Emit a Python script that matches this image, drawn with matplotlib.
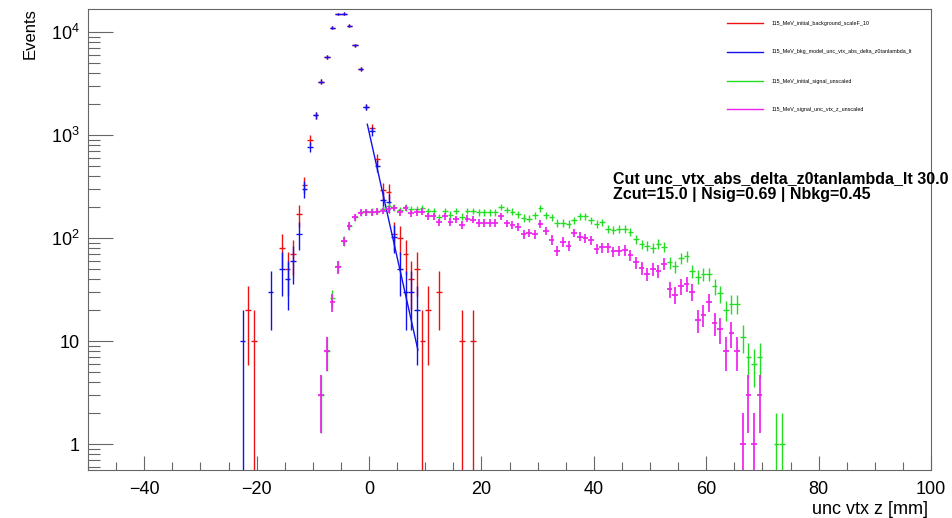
import numpy as np
import matplotlib.pyplot as plt
from matplotlib.lines import Line2D
from matplotlib.ticker import NullFormatter, LogLocator, MultipleLocator

plt.rcParams['font.family'] = ['Liberation Sans', 'DejaVu Sans']
plt.rcParams['mathtext.fontset'] = 'custom'
plt.rcParams['mathtext.rm'] = 'Liberation Sans'
plt.rcParams['mathtext.it'] = 'Liberation Sans:italic'
plt.rcParams['mathtext.bf'] = 'Liberation Sans:bold'

# background, scaled by 10 (bin centres in mm)
bkg_z = [-21.5, -20.5, -15.5, -14.5, -13.5, -12.5, -11.5, -10.5, -9.5, -8.5,
         -7.5, -6.5, -5.5, -4.5, -3.5, -2.5, -1.5, -0.5, 0.5, 1.5,
         2.5, 3.5, 4.5, 5.5, 6.5, 7.5, 8.5, 9.5, 10.5, 12.5, 16.5, 18.5]
bkg_n = [20, 10, 80, 50, 70, 170, 330, 900, 1560, 3290,
         5750, 11000, 14900, 15100, 11500, 7400, 4360, 1880, 1170, 580,
         290, 280, 110, 100, 70, 40, 50, 10, 20, 30, 10, 10]

# background model after the cut
model_z = [-22.5, -17.5, -15.5, -14.5, -13.5, -12.5, -11.5, -10.5, -9.5, -8.5,
           -7.5, -6.5, -5.5, -4.5, -3.5, -2.5, -1.5, -0.5, 0.5, 1.5,
           2.5, 3.5, 4.5, 5.5, 6.5, 7.5, 8.5]
model_n = [10, 30, 50, 40, 60, 110, 300, 770, 1560, 3290,
           5750, 11000, 14900, 15100, 11500, 7400, 4360, 1880, 1090, 505,
           233, 222, 103, 50, 30, 30, 20]

# exponential tail fit of the model
fit_z = [-0.3, 8.7]
fit_n = [1270, 8.2]

# signal, bins -8.5 ... 69.5
sig_z = np.arange(-8.5, 70.0, 1.0)
sig_n = [3, 8, 26, 53, 94, 132, 160, 177, 179, 180,
         183, 190, 204, 199, 187, 199, 191, 191, 195, 184,
         184, 159, 184, 169, 184, 161, 184, 184, 178, 178,
         178, 178, 201, 187, 180, 171, 157, 154, 167, 194,
         167, 159, 140, 141, 138, 148, 164, 164, 148, 137,
         142, 122, 120, 122, 122, 115, 98, 87, 84, 80,
         88, 82, 58, 53, 64, 67, 48, 42, 45, 45,
         34, 29, 20, 23, 23, 11, 7, 6, 7]
sig_tail_z = [72.5, 73.5]
sig_tail_n = [1, 1]

cut_n = [3, 8, 24, 52, 93, 131, 159, 176, 178, 178,
         180, 184, 190, 195, 178, 195, 174, 178, 180, 164,
         163, 142, 163, 143, 152, 134, 154, 151, 141, 141,
         141, 141, 164, 139, 134, 129, 109, 113, 109, 138,
         118, 96, 75, 92, 84, 112, 103, 99, 95, 78,
         81, 81, 74, 75, 76, 68, 58, 51, 45, 50,
         48, 56, 32, 28, 34, 36, 30, 16, 18, 24,
         15, 13, 8, 12, 8, 1, 3, 1, 3]

labels = ['115_MeV_initial_background_scaleF_10',
          '115_MeV_bkg_model_unc_vtx_abs_delta_z0tanlambda_lt',
          '115_MeV_initial_signal_unscaled',
          '115_MeV_signal_unc_vtx_z_unscaled']
colors = ['#ee1111', '#1111ee', '#22dd22', '#ee22ee']

W, H = 953, 518
fig = plt.figure(figsize=(W / 100, H / 100), dpi=100)
ax = fig.add_axes([88 / W, 1 - 470 / H, (931 - 88) / W, (470 - 9) / H])
ax.set_yscale('log')


def draw(z, n, scale, color, lw=1.0):
    z = np.asarray(z, float)
    n = np.asarray(n, float)
    err = np.sqrt(n * scale)
    lo = np.minimum(err, n - 1e-3)
    ax.errorbar(z, n, xerr=0.5, yerr=[lo, err], fmt='none', ecolor=color,
                elinewidth=lw, capsize=0)


draw(bkg_z, bkg_n, 10, colors[0])
draw(model_z, model_n, 10, colors[1])
ax.plot(fit_z, fit_n, color=colors[1], lw=1.0)
draw(np.concatenate([sig_z, sig_tail_z]), list(sig_n) + sig_tail_n, 1, colors[2])
draw(sig_z, cut_n, 1, colors[3], lw=1.25)

ax.set_xlim(-50, 100)
ax.set_ylim(0.56, 16700)

frame = '#666666'
for s in ax.spines.values():
    s.set_color(frame)
    s.set_linewidth(0.8)

ax.set_yticks([1, 10, 100, 1000, 10000])
ax.set_yticklabels(['1', '10', '$10^{2}$', '$10^{3}$', '$10^{4}$'])
ax.yaxis.set_minor_locator(LogLocator(base=10, subs=np.arange(2, 10)))
ax.yaxis.set_minor_formatter(NullFormatter())
ax.xaxis.set_major_locator(MultipleLocator(20))
ax.xaxis.set_minor_locator(MultipleLocator(5))
ax.tick_params(axis='both', which='both', direction='in', color=frame,
               labelsize=13, top=False, right=False)
ax.tick_params(axis='y', which='major', length=18, width=0.8, pad=6)
ax.tick_params(axis='y', which='minor', length=8.5, width=0.8)
ax.tick_params(axis='x', which='major', length=10, width=0.8, pad=8)
ax.tick_params(axis='x', which='minor', length=5.5, width=0.8)

fig.text(30 / W, 1 - 8 / H, 'Events', rotation=90, ha='center', va='top',
         fontsize=12)
fig.text(928 / W, 1 - 514 / H, 'unc vtx z [mm]', ha='right', va='baseline',
         fontsize=13)

# legend drawn by hand, ROOT style
leg_y = [23, 52, 81, 109]
for lab, col, y in zip(labels, colors, leg_y):
    fig.add_artist(Line2D([727 / W, 763 / W], [1 - y / H, 1 - y / H],
                          color=col, lw=1.0))
    fig.text(772 / W, 1 - y / H, lab, fontsize=3.9, va='center', ha='left')

fig.text(613 / W, 1 - 183 / H, 'Cut unc_vtx_abs_delta_z0tanlambda_lt 30.0',
         fontsize=11.5, fontweight='bold', va='baseline')
fig.text(613 / W, 1 - 198.5 / H, 'Zcut=15.0 | Nsig=0.69 | Nbkg=0.45',
         fontsize=11.5, fontweight='bold', va='baseline')

fig.savefig('out.png', dpi=100)
